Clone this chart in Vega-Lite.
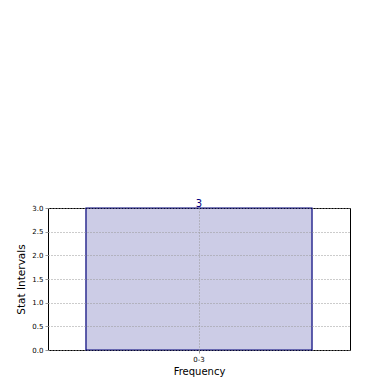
{
  "$schema": "https://vega.github.io/schema/vega-lite/v6.json",
  "autosize": "none",
  "width": 302,
  "height": 142,
  "padding": {"left": 48, "top": 208, "right": 40, "bottom": 40},
  "background": "white",
  "config": {
    "font": "DejaVu Sans",
    "view": {"stroke": "black", "strokeWidth": 1}
  },
  "data": {"values": [{"interval": "0-3", "count": 3}]},
  "encoding": {
    "x": {
      "field": "interval", "type": "nominal",
      "scale": {"paddingInner": 0, "paddingOuter": 0.168},
      "axis": {
        "title": "Frequency", "titleFontSize": 10, "titleFontWeight": "normal", "titleColor": "black", "titlePadding": 4,
        "labelAngle": 0, "labelFontSize": 7, "labelColor": "black", "labelPadding": 2,
        "domain": false, "ticks": true, "tickSize": 3, "tickColor": "#999999", "bandPosition": 0.5,
        "grid": true, "gridColor": "#999999", "gridDash": [1, 2], "gridWidth": 1, "zindex": 1
      }
    },
    "y": {
      "field": "count", "type": "quantitative",
      "scale": {"domain": [0, 3], "nice": false},
      "axis": {
        "title": "Stat Intervals", "titleFontSize": 10.5, "titleFontWeight": "normal", "titleColor": "black", "titlePadding": 5,
        "values": [0, 0.5, 1, 1.5, 2, 2.5, 3], "format": ".1f", "labelOverlap": false,
        "labelFontSize": 7, "labelColor": "black", "labelPadding": 2,
        "domain": false, "ticks": true, "tickSize": 3, "tickColor": "#999999",
        "grid": true, "gridColor": "#999999", "gridDash": [1, 2], "gridWidth": 1, "zindex": 1
      }
    }
  },
  "layer": [
    {
      "mark": {"type": "bar", "fill": "#000080", "fillOpacity": 0.2, "stroke": "#00007a", "strokeOpacity": 1, "strokeWidth": 1.2}
    },
    {
      "mark": {"type": "text", "color": "#000080", "fontSize": 10, "baseline": "bottom", "dy": 1},
      "encoding": {
        "text": {"field": "count", "type": "quantitative"}
      }
    }
  ]
}
